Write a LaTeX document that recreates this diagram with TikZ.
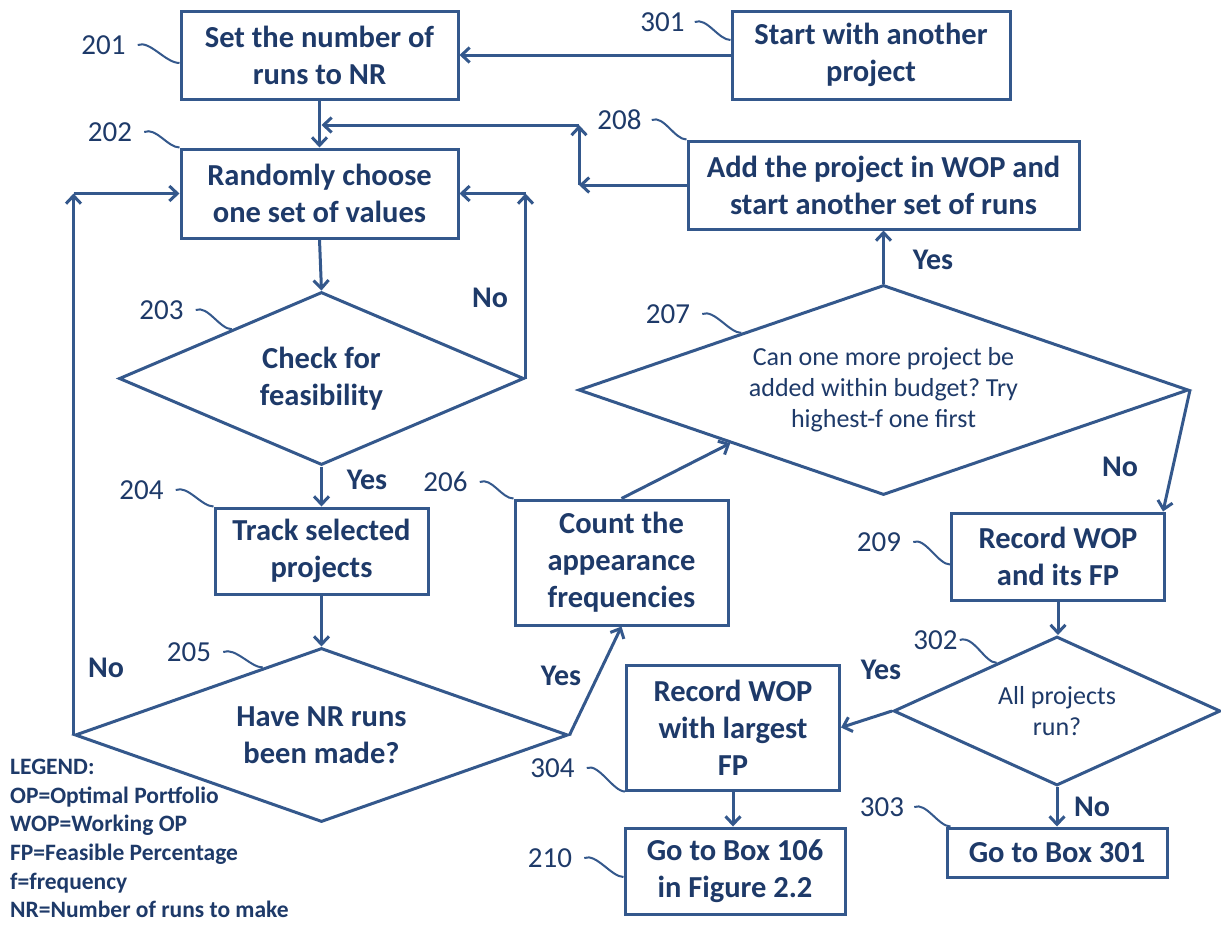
\documentclass[tikz,border=0pt]{standalone}
\usepackage{fontspec}
\setmainfont{Carlito}
\usetikzlibrary{arrows.meta,shapes.geometric,calc}
\definecolor{ln}{RGB}{52,88,140}
\definecolor{tx}{RGB}{30,58,105}
\frenchspacing
\begin{document}
\begin{tikzpicture}[x=1pt,y=-1pt,
  box/.style={draw=ln,line width=3pt,fill=white,text=tx,font=\bfseries\fontsize{30.5}{37}\selectfont,align=center,inner sep=0pt},
  dia/.style={diamond,draw=ln,line width=3pt,fill=white,text=tx,align=center,inner sep=0pt},
  bigt/.style={font=\bfseries\fontsize{30.5}{37}\selectfont},
  smallt/.style={font=\fontsize{26}{31}\selectfont},
  conn/.style={draw=ln,line width=3pt,line join=round,-{Straight Barb[length=8pt,width=15pt]}},
  yn/.style={text=tx,font=\bfseries\fontsize{30}{36}\selectfont,inner sep=0pt},
  num/.style={text=tx,font=\fontsize{29}{34}\selectfont,inner sep=0pt},
  lead/.style={draw=ln,line width=2pt}]
\fill[white] (0,0) rectangle (1221,924);
\path[use as bounding box] (0,0) rectangle (1221,924);

% boxes
\node[box,minimum width=277,minimum height=88] (b201) at (319.5,55) {Set the number of\\runs to NR};
\node[box,minimum width=278,minimum height=88] (b301) at (871,55) {Start with another\\project};
\node[box,minimum width=277,minimum height=89] (b202) at (319.5,193.5) {Randomly choose\\one set of values};
\node[box,minimum width=391,minimum height=88] (b208) at (883.5,185) {Add the project in WOP and\\start another set of runs};
\node[box,minimum width=213,minimum height=86] (b204) at (321.5,551) {Track selected\\projects};
\node[box,minimum width=213,minimum height=125] (b206) at (621.5,562.5) {Count the\\appearance\\frequencies};
\node[box,minimum width=213,minimum height=87] (b209) at (1058,556.5) {Record WOP\\and its FP};
\node[box,minimum width=213,minimum height=125] (b304) at (733,727.5) {Record WOP\\with largest\\FP};
\node[box,minimum width=220,minimum height=86] (b210) at (735,871) {Go to Box 106\\in Figure 2.2};
\node[box,minimum width=220,minimum height=49] (b303) at (1057,852.5) {Go to Box 301};

% diamonds
\node[dia,bigt,aspect=2.34,minimum width=405,minimum height=173] (d203) at (321.5,378.5) {Check for\\feasibility};
\node[dia,bigt,aspect=2.83,minimum width=493,minimum height=174] (d205) at (321.5,735) {Have NR runs\\been made?};
\node[dia,smallt,aspect=2.9,minimum width=610,minimum height=210] (d207) at (883.5,390) {Can one more project be\\added within budget? Try\\highest-f one first};
\node[dia,smallt,aspect=2.19,minimum width=327,minimum height=149] (d302) at (1057,711) {All projects\\run?};

% connectors
\draw[conn] (b301.west) -- (b201.east);
\draw[conn] (b201.south) -- (b202.north);
\coordinate (c1) at (579,125);
\coordinate (c2) at (c1 |- b208.west);
\draw[conn] (b208.west) -- (c2);
\draw[conn] (c2) -- (c1);
\draw[conn] (c1) -- ([xshift=2]b201.south |- c1);
\draw[conn] (b202.south) -- (d203.north);
\coordinate (c3) at (d203.east |- b202.east);
\draw[conn] (d203.east) -- (c3);
\draw[conn] (c3) -- (b202.east);
\draw[conn] (d203.south) -- (b204.north);
\draw[conn] (b204.south) -- (d205.north);
\coordinate (c4) at (d205.west |- b202.west);
\draw[conn] (d205.west) -- (c4);
\draw[conn] (c4) -- (b202.west);
\draw[conn] (d205.east) -- (b206.south);
\draw[conn] (b206.north) -- ($(d207.west)!0.5!(d207.south)$);
\draw[conn] (d207.north) -- (b208.south);
\draw[conn] (d207.east) -- ([xshift=-3]b209.north east);
\draw[conn] (b209.south) -- (b209.south |- d302.north);
\draw[conn] (d302.west) -- (b304.east);
\draw[conn] (d302.south) -- (b303.north);
\draw[conn] (b304.south) -- (b304.south |- b210.north);

% yes / no
\node[yn] (n1) at (490,298) {No};
\node[yn] (y1) at (367,480) {Yes};
\node[yn] (n2) at (106,668) {No};
\node[yn] (y2) at (561,676) {Yes};
\node[yn] (y3) at (933,260) {Yes};
\node[yn] (n3) at (1120,467) {No};
\node[yn] (y4) at (881,670) {Yes};
\node[yn] (n4) at (1092,807) {No};

% reference numbers
\node[num] (l201) at (103.5,45) {201};
\node[num] (l202) at (110,132) {202};
\node[num] (l203) at (161.5,310) {203};
\node[num] (l204) at (141.5,490) {204};
\node[num] (l206) at (445.5,482) {206};
\node[num] (l205) at (189,652) {205};
\node[num] (l207) at (668,314) {207};
\node[num] (l208) at (619.5,120) {208};
\node[num] (l301) at (662.5,22) {301};
\node[num] (l209) at (879,542) {209};
\node[num] (l302) at (935.5,640) {302};
\node[num] (l303) at (882,807) {303};
\node[num] (l304) at (552.5,768) {304};
\node[num] (l210) at (550,858) {210};

\draw[lead] ([xshift=12]l201.east) .. controls +(12,-5) and +(-14,0) .. ([yshift=-8]b201.west);
\draw[lead] ([xshift=12]l202.east) .. controls +(12,-5) and +(-12,0) .. (b202.north west);
\draw[lead] ([xshift=12]l203.east) .. controls +(12,-5) and +(-12,0) .. ($(d203.west)!0.56!(d203.north)$);
\draw[lead] ([xshift=12]l204.east) .. controls +(12,-5) and +(-12,0) .. (b204.north west);
\draw[lead] ([xshift=12]l206.east) .. controls +(12,-5) and +(-12,0) .. (b206.north west);
\draw[lead] ([xshift=12]l205.east) .. controls +(12,-5) and +(-12,0) .. ($(d205.west)!0.763!(d205.north)$);
\draw[lead] ([xshift=12]l207.east) .. controls +(12,-5) and +(-12,0) .. ($(d207.west)!0.536!(d207.north)$);
\draw[lead] ([xshift=10]l208.east) .. controls +(12,-5) and +(-12,0) .. (b208.north west);
\draw[lead] ([xshift=10]l301.east) .. controls +(12,-5) and +(-12,0) .. ([yshift=15]b301.west);
\draw[lead] ([xshift=12]l209.east) .. controls +(12,-5) and +(-12,0) .. ([yshift=-8]b209.west);
\draw[lead] ([xshift=2]l302.east) .. controls +(14,-5) and +(-12,0) .. ($(d302.west)!0.634!(d302.north)$);
\draw[lead] ([xshift=10]l303.east) .. controls +(12,-5) and +(-12,0) .. ([xshift=5]b303.north west);
\draw[lead] ([xshift=12]l304.east) .. controls +(12,-5) and +(-12,0) .. (b304.south west);
\draw[lead] ([xshift=12]l210.east) .. controls +(12,-5) and +(-12,0) .. ([yshift=-6]b210.west);

% legend
\node[text=tx,font=\bfseries\fontsize{23.5}{28.6}\selectfont,align=left,inner sep=0pt,anchor=north west] (leg) at (10,759) {LEGEND:\\OP=Optimal Portfolio\\WOP=Working OP\\FP=Feasible Percentage\\f=frequency\\NR=Number of runs to make};
\end{tikzpicture}
\end{document}
